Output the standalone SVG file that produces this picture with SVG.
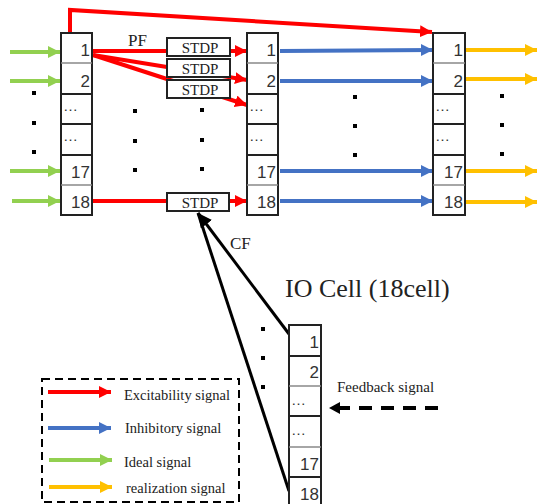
<svg xmlns="http://www.w3.org/2000/svg" width="538" height="504" viewBox="0 0 538 504">
<style>
.cell{fill:#fff;stroke:#222;stroke-width:2}
.sep{stroke:#888;stroke-width:1.5}
.sepb{stroke:#222;stroke-width:2}
.num{font-family:"Liberation Sans",Arial,sans-serif;font-size:17px;fill:#333;text-anchor:end}
.ell{font-family:"Liberation Sans",Arial,sans-serif;font-size:15px;fill:#333}
.stdp{fill:#fff;stroke:#222;stroke-width:2}
.st{font-family:"Liberation Serif","Times New Roman",serif;font-size:15px;fill:#222;text-anchor:middle}
.ser{font-family:"Liberation Serif","Times New Roman",serif;fill:#222}
.r{stroke:#FF0000;stroke-width:4;fill:none}
.b{stroke:#4472C4;stroke-width:4;fill:none}
.g{stroke:#92D050;stroke-width:4;fill:none}
.y{stroke:#FFC000;stroke-width:4;fill:none}
.k{stroke:#000;stroke-width:3;fill:none}
.dot{fill:#000}
</style>
<defs>
<marker id="mr" markerUnits="userSpaceOnUse" markerWidth="14" markerHeight="14" refX="12" refY="6" orient="auto"><path d="M0,0 L12,6 L0,12 Z" fill="#FF0000"/></marker>
<marker id="mb" markerUnits="userSpaceOnUse" markerWidth="14" markerHeight="14" refX="12" refY="6" orient="auto"><path d="M0,0 L12,6 L0,12 Z" fill="#4472C4"/></marker>
<marker id="mg" markerUnits="userSpaceOnUse" markerWidth="14" markerHeight="14" refX="12" refY="6" orient="auto"><path d="M0,0 L12,6 L0,12 Z" fill="#92D050"/></marker>
<marker id="my" markerUnits="userSpaceOnUse" markerWidth="14" markerHeight="14" refX="12" refY="6" orient="auto"><path d="M0,0 L12,6 L0,12 Z" fill="#FFC000"/></marker>
<marker id="mk" markerUnits="userSpaceOnUse" markerWidth="18" markerHeight="18" refX="14" refY="7" orient="auto"><path d="M0,0 L14,7 L0,14 Z" fill="#000"/></marker>
</defs>

<g id="connectors">
  <line class="g" x1="10" y1="52" x2="60" y2="52" marker-end="url(#mg)"/>
  <line class="g" x1="10" y1="81" x2="60" y2="81" marker-end="url(#mg)"/>
  <line class="g" x1="10" y1="171" x2="60" y2="171" marker-end="url(#mg)"/>
  <line class="g" x1="12" y1="201" x2="60" y2="201" marker-end="url(#mg)"/>
  <polyline class="r" points="70,33 70,10 432,32" marker-end="url(#mr)"/>
  <line class="r" x1="93" y1="51" x2="168" y2="51"/>
  <line class="r" x1="229" y1="51" x2="247" y2="51" marker-end="url(#mr)"/>
  <line class="r" x1="93" y1="55" x2="247" y2="80" marker-end="url(#mr)"/>
  <line class="r" x1="93" y1="55" x2="247" y2="105" marker-end="url(#mr)"/>
  <line class="r" x1="93" y1="201" x2="168" y2="201"/>
  <line class="r" x1="229" y1="201" x2="247" y2="201" marker-end="url(#mr)"/>
  <line class="b" x1="280" y1="51" x2="433" y2="50" marker-end="url(#mb)"/>
  <line class="b" x1="280" y1="81" x2="433" y2="81" marker-end="url(#mb)"/>
  <line class="b" x1="280" y1="171" x2="433" y2="171" marker-end="url(#mb)"/>
  <line class="b" x1="280" y1="201" x2="433" y2="201" marker-end="url(#mb)"/>
  <line class="y" x1="466" y1="50" x2="537" y2="50" marker-end="url(#my)"/>
  <line class="y" x1="466" y1="79" x2="537" y2="79" marker-end="url(#my)"/>
  <line class="y" x1="466" y1="171" x2="537" y2="171" marker-end="url(#my)"/>
  <line class="y" x1="466" y1="202" x2="537" y2="202" marker-end="url(#my)"/>
  <line class="k" x1="289" y1="334" x2="198" y2="213" marker-end="url(#mk)"/>
  <line class="k" x1="289" y1="491" x2="198" y2="213"/>
  <line x1="438" y1="408" x2="340" y2="408" stroke="#000" stroke-width="4" stroke-dasharray="13,9"/>
  <path d="M329,408 L340,402 L340,414 Z" fill="#000"/>
</g>

<g id="col1">
  <rect class="cell" x="61" y="33" width="31" height="182"/>
  <line class="sep" x1="61" y1="63" x2="92" y2="63"/>
  <line class="sepb" x1="61" y1="94" x2="92" y2="94"/>
  <line class="sepb" x1="61" y1="124" x2="92" y2="124"/>
  <line class="sepb" x1="61" y1="155" x2="92" y2="155"/>
  <line class="sep" x1="61" y1="185" x2="92" y2="185"/>
  <text class="num" x="90" y="56">1</text>
  <text class="num" x="90" y="87">2</text>
  <text class="ell" x="63" y="111">…</text>
  <text class="ell" x="63" y="141">…</text>
  <text class="num" x="90" y="178">17</text>
  <text class="num" x="90" y="208">18</text>
</g>

<g id="col2">
  <rect class="cell" x="247" y="33" width="31" height="182"/>
  <line class="sep" x1="247" y1="63" x2="278" y2="63"/>
  <line class="sepb" x1="247" y1="94" x2="278" y2="94"/>
  <line class="sepb" x1="247" y1="124" x2="278" y2="124"/>
  <line class="sepb" x1="247" y1="155" x2="278" y2="155"/>
  <line class="sep" x1="247" y1="185" x2="278" y2="185"/>
  <text class="num" x="276" y="56">1</text>
  <text class="num" x="276" y="87">2</text>
  <text class="ell" x="249" y="111">…</text>
  <text class="ell" x="249" y="141">…</text>
  <text class="num" x="276" y="178">17</text>
  <text class="num" x="276" y="208">18</text>
</g>

<g id="col3">
  <rect class="cell" x="433" y="33" width="32" height="182"/>
  <line class="sep" x1="433" y1="63" x2="465" y2="63"/>
  <line class="sepb" x1="433" y1="94" x2="465" y2="94"/>
  <line class="sepb" x1="433" y1="124" x2="465" y2="124"/>
  <line class="sepb" x1="433" y1="155" x2="465" y2="155"/>
  <line class="sep" x1="433" y1="185" x2="465" y2="185"/>
  <text class="num" x="463" y="56">1</text>
  <text class="num" x="463" y="87">2</text>
  <text class="ell" x="435" y="111">…</text>
  <text class="ell" x="435" y="141">…</text>
  <text class="num" x="463" y="178">17</text>
  <text class="num" x="463" y="208">18</text>
</g>

<g id="stdp1"><rect class="stdp" x="167" y="38" width="63" height="18"/><text class="st" x="200" y="53">STDP</text></g>
<g id="stdp2"><rect class="stdp" x="167" y="59" width="63" height="18"/><text class="st" x="200" y="74">STDP</text></g>
<g id="stdp3"><rect class="stdp" x="167" y="80" width="63" height="18"/><text class="st" x="200" y="95">STDP</text></g>
<g id="stdp18"><rect class="stdp" x="167" y="193" width="62" height="18"/><text class="st" x="200" y="208">STDP</text></g>

<g id="io">
  <rect class="cell" x="289" y="325" width="32" height="185"/>
  <line class="sepb" x1="289" y1="356" x2="321" y2="356"/>
  <line class="sep" x1="289" y1="386" x2="321" y2="386"/>
  <line class="sepb" x1="289" y1="416" x2="321" y2="416"/>
  <line class="sep" x1="289" y1="447" x2="321" y2="447"/>
  <line class="sepb" x1="289" y1="477" x2="321" y2="477"/>
  <text class="num" x="319" y="348">1</text>
  <text class="num" x="319" y="378">2</text>
  <text class="ell" x="291" y="405">…</text>
  <text class="ell" x="291" y="435">…</text>
  <text class="num" x="319" y="470">17</text>
  <text class="num" x="319" y="500">18</text>
</g>

<g id="labels">
  <text class="ser" x="128" y="46" font-size="17">PF</text>
  <text class="ser" x="230" y="249" font-size="17">CF</text>
  <text class="ser" x="285" y="297" font-size="26">IO Cell (18cell)</text>
  <text class="ser" x="337" y="392" font-size="15">Feedback signal</text>
</g>

<g id="dots">
  <rect class="dot" x="32" y="91" width="4" height="4"/>
  <rect class="dot" x="32" y="121" width="4" height="4"/>
  <rect class="dot" x="32" y="150" width="4" height="4"/>
  <rect class="dot" x="133" y="109" width="4" height="4"/>
  <rect class="dot" x="133" y="139" width="4" height="4"/>
  <rect class="dot" x="133" y="168" width="4" height="4"/>
  <rect class="dot" x="200" y="108" width="4" height="4"/>
  <rect class="dot" x="200" y="138" width="4" height="4"/>
  <rect class="dot" x="200" y="167" width="4" height="4"/>
  <rect class="dot" x="353" y="95" width="4" height="4"/>
  <rect class="dot" x="353" y="124" width="4" height="4"/>
  <rect class="dot" x="353" y="153" width="4" height="4"/>
  <rect class="dot" x="500" y="94" width="4" height="4"/>
  <rect class="dot" x="500" y="123" width="4" height="4"/>
  <rect class="dot" x="500" y="152" width="4" height="4"/>
  <rect class="dot" x="261" y="327" width="4" height="4"/>
  <rect class="dot" x="261" y="356" width="4" height="4"/>
  <rect class="dot" x="261" y="385" width="4" height="4"/>
</g>

<g id="legend">
  <rect x="42" y="379" width="197" height="123" fill="none" stroke="#000" stroke-width="2" stroke-dasharray="8,5"/>
  <line class="r" x1="48" y1="392" x2="111" y2="392" marker-end="url(#mr)"/>
  <line class="b" x1="48" y1="428" x2="111" y2="428" marker-end="url(#mb)"/>
  <line class="g" x1="49" y1="460" x2="112" y2="460" marker-end="url(#mg)"/>
  <line class="y" x1="49" y1="487" x2="112" y2="487" marker-end="url(#my)"/>
  <text class="ser" x="124" y="400" font-size="14.5">Excitability signal</text>
  <text class="ser" x="125" y="433" font-size="14.5">Inhibitory signal</text>
  <text class="ser" x="124" y="467" font-size="14.5">Ideal signal</text>
  <text class="ser" x="126" y="493" font-size="14.5">realization signal</text>
</g>
</svg>
